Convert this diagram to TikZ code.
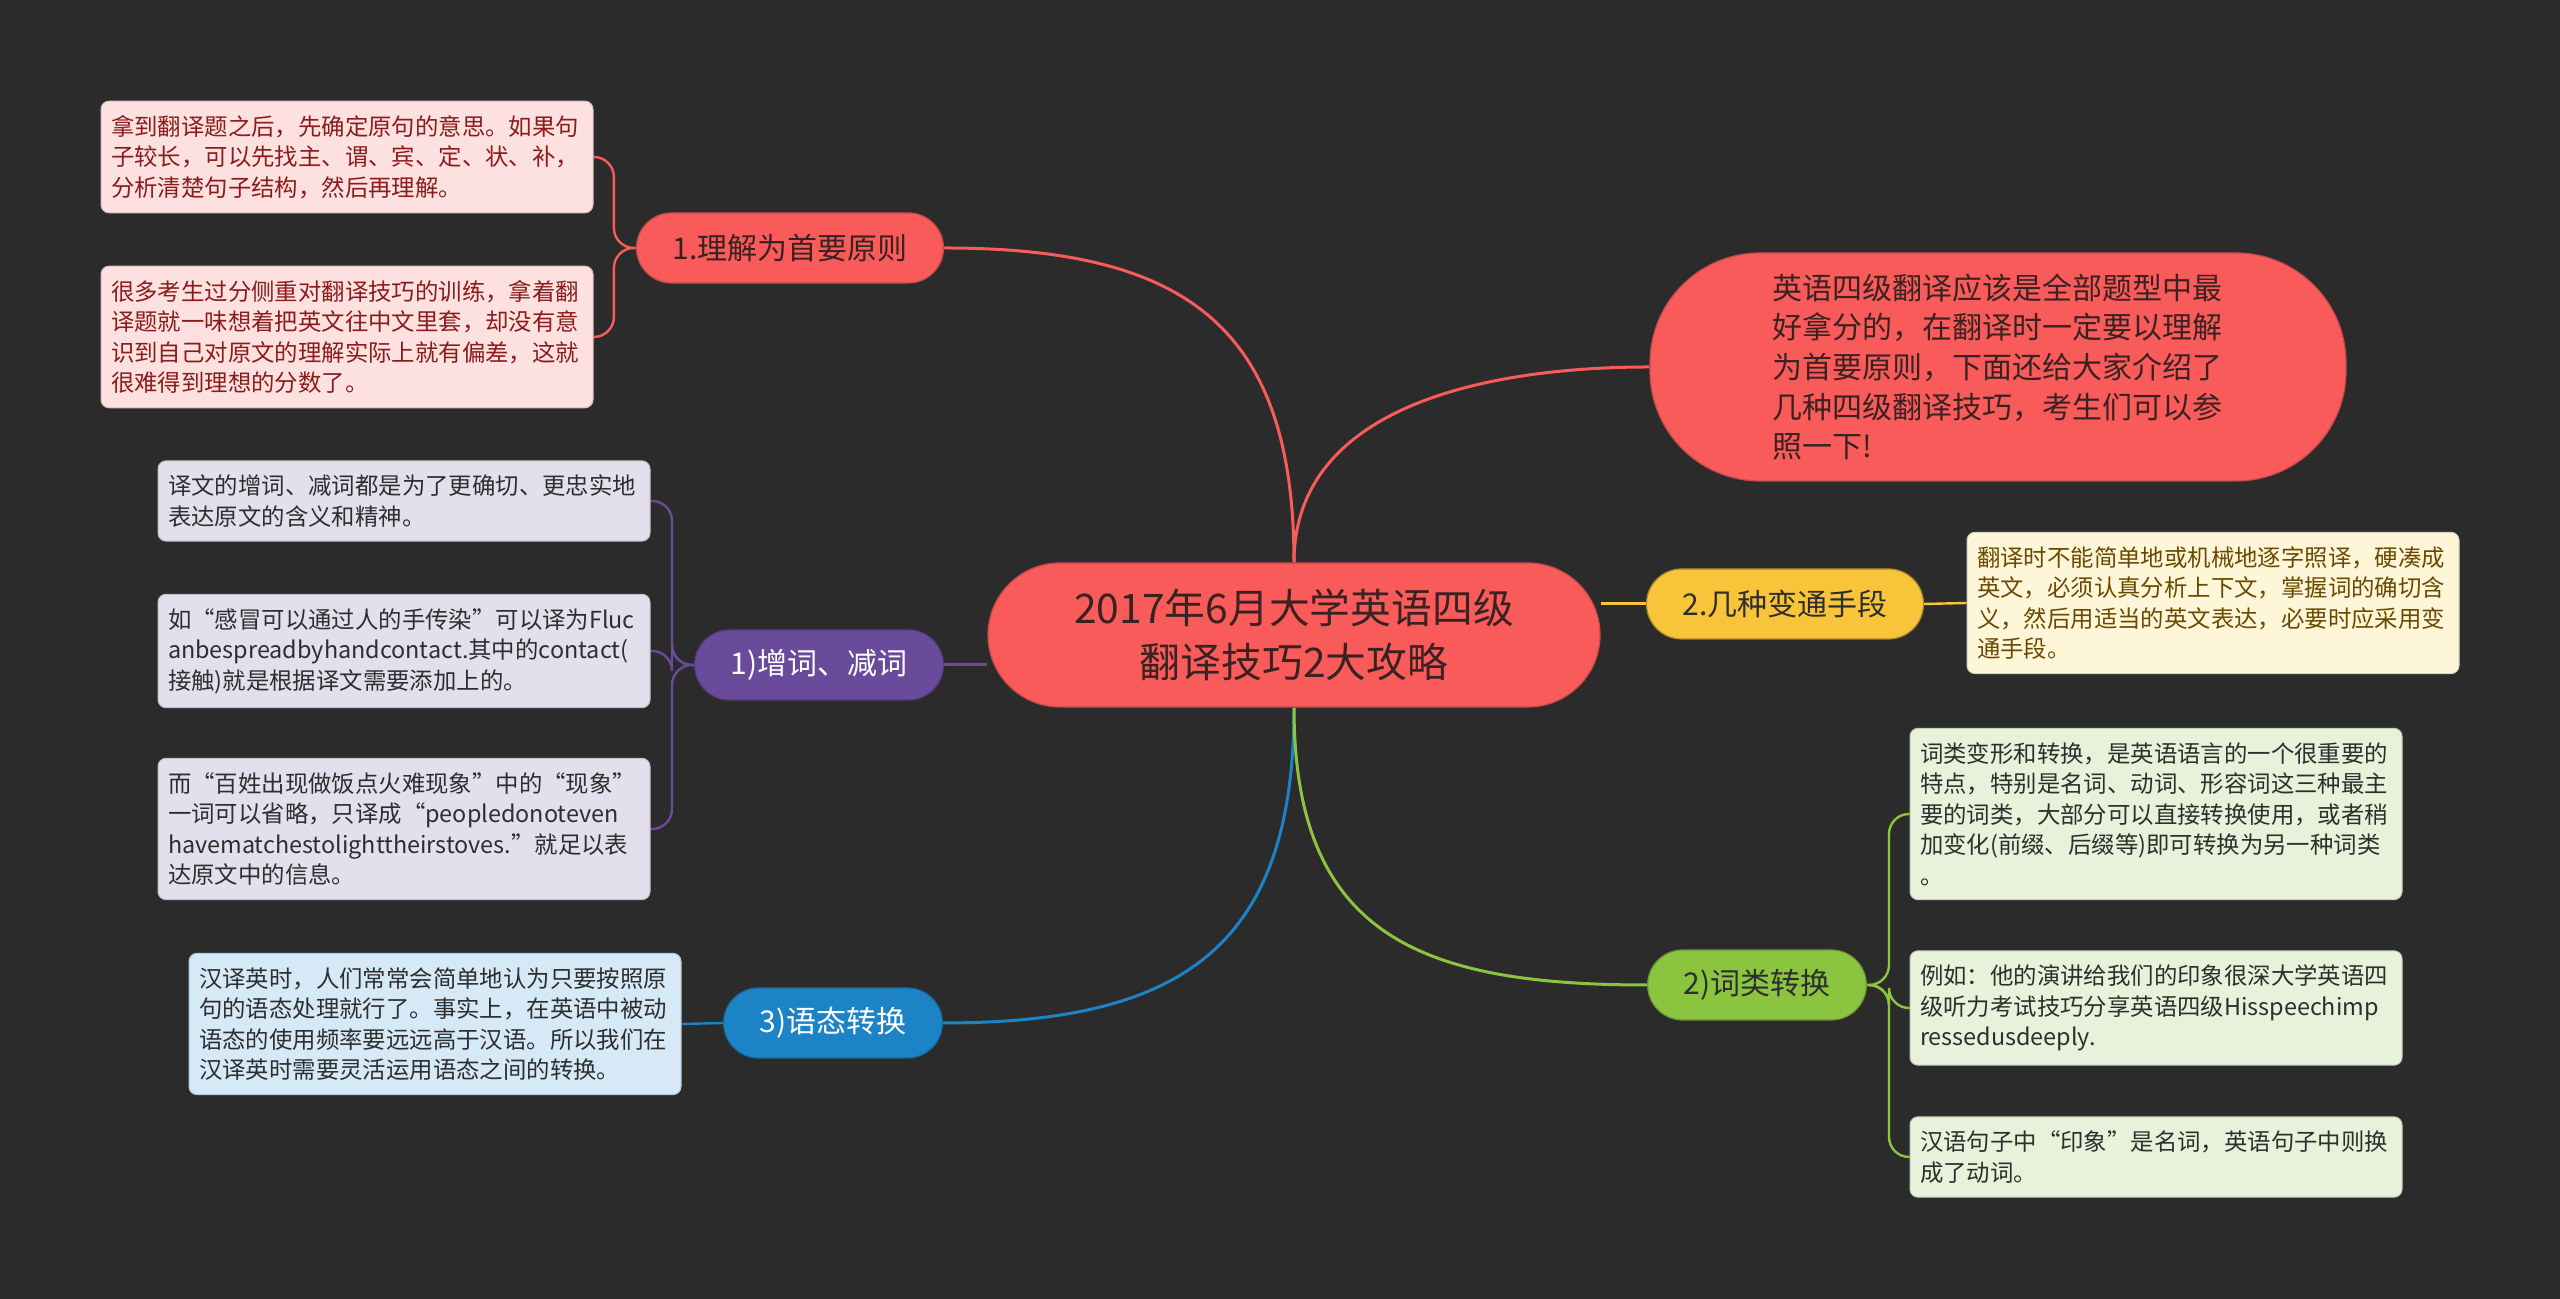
\documentclass[tikz,border=0pt]{standalone}
\usepackage{fontspec}
\setmainfont{Noto Sans CJK SC}
\usepackage{xcolor}
\usetikzlibrary{calc}

\definecolor{bgDark}{HTML}{2B2B2B}
\definecolor{mmRed}{HTML}{F95B5B}
\definecolor{mmRedText}{HTML}{3A2222}
\definecolor{mmRedLeaf}{HTML}{FDE1E1}
\definecolor{mmRedLeafText}{HTML}{8A1C1C}
\definecolor{mmPurple}{HTML}{6A4B9B}
\definecolor{mmPurpleLeaf}{HTML}{E4DFEC}
\definecolor{mmBlue}{HTML}{1C84C6}
\definecolor{mmBlueLeaf}{HTML}{D5E9F6}
\definecolor{mmYellow}{HTML}{F8C43A}
\definecolor{mmYellowLeaf}{HTML}{FEF6D8}
\definecolor{mmYellowLeafText}{HTML}{6B4A00}
\definecolor{mmGreen}{HTML}{8BC53F}
\definecolor{mmGreenLeaf}{HTML}{E8F2DA}
\definecolor{mmDarkText}{HTML}{2E2E2E}

\pgfdeclarelayer{back}
\pgfdeclarelayer{lines}
\pgfsetlayers{back,lines,main}

\begin{document}
\begin{tikzpicture}[x=0.5pt, y=0.5pt,
    rootbox/.style={fill=mmRed, draw=mmRed!80!black, line width=0.6pt, rounded corners=36pt,
      minimum width=306pt, minimum height=72pt, align=center, text=mmRedText,
      font=\fontsize{20.4}{27}\selectfont},
    introbox/.style={fill=mmRed, draw=mmRed!80!black, line width=0.6pt, rounded corners=55pt,
      minimum width=348pt, minimum height=114pt, text width=226pt, align=left, text=mmRedText,
      font=\fontsize{15}{19.85}\selectfont},
    branch/.style={rounded corners=17.5pt, minimum height=35pt, inner xsep=18pt, line width=0.6pt,
      font=\fontsize{15}{18}\selectfont},
    leaf/.style={rounded corners=4pt, text width=236pt, inner xsep=5pt, inner ysep=7pt,
      align=left, line width=0.5pt, font=\fontsize{11.7}{15.25}\selectfont},
    leafred/.style={leaf, fill=mmRedLeaf, draw=mmRedLeaf!85!black, text=mmRedLeafText},
    leafpurple/.style={leaf, fill=mmPurpleLeaf, draw=mmPurpleLeaf!85!black, text=mmDarkText},
    leafblue/.style={leaf, fill=mmBlueLeaf, draw=mmBlueLeaf!85!black, text=mmDarkText},
    leafyellow/.style={leaf, fill=mmYellowLeaf, draw=mmYellowLeaf!85!black, text=mmYellowLeafText},
    leafgreen/.style={leaf, fill=mmGreenLeaf, draw=mmGreenLeaf!85!black, text=mmDarkText},
    mainline/.style={line width=1.5pt},
    leafline/.style={line width=1.2pt, rounded corners=10pt},
  ]
  \useasboundingbox (0,0) rectangle (2560,1299);
  \begin{pgfonlayer}{back}
    \fill[bgDark] (0,0) rectangle (2560,1299);
  \end{pgfonlayer}

  % Centre
  \node[rootbox] (root) at (1294,664) {2017年6月大学英语四级\\翻译技巧2大攻略};
  \node[introbox] (intro) at (1998,932) {英语四级翻译应该是全部题型中最\\好拿分的，在翻译时一定要以理解\\为首要原则，下面还给大家介绍了\\几种四级翻译技巧，考生们可以参\\照一下!};

  % Branches
  \node[branch, fill=mmRed, draw=mmRed!80!black, text=mmRedText] (lijie) at (790,1051) {1.理解为首要原则};
  \node[branch, fill=mmYellow, draw=mmYellow!70!black, text=mmDarkText] (biantong) at (1785,695) {2.几种变通手段};
  \node[branch, fill=mmPurple, draw=mmPurple!80!black, text=white] (zengci) at (819,634) {1)增词、减词};
  \node[branch, fill=mmGreen, draw=mmGreen!75!black, text=mmDarkText] (cilei) at (1757,314) {2)词类转换};
  \node[branch, fill=mmBlue, draw=mmBlue!80!black, text=white] (yutai) at (833,276) {3)语态转换};

  % Leaves, left
  \node[leafred] (lijieA) at (347,1142) {拿到翻译题之后，先确定原句的意思。如果句\\子较长，可以先找主、谓、宾、定、状、补，\\分析清楚句子结构，然后再理解。};
  \node[leafred] (lijieB) at (347,962) {很多考生过分侧重对翻译技巧的训练，拿着翻\\译题就一味想着把英文往中文里套，却没有意\\识到自己对原文的理解实际上就有偏差，这就\\很难得到理想的分数了。};
  \node[leafpurple] (zengciA) at (404,798) {译文的增词、减词都是为了更确切、更忠实地\\表达原文的含义和精神。};
  \node[leafpurple] (zengciB) at (404,648) {如“感冒可以通过人的手传染”可以译为Fluc\\anbespreadbyhandcontact.其中的contact(\\接触)就是根据译文需要添加上的。};
  \node[leafpurple] (zengciC) at (404,470) {而“百姓出现做饭点火难现象”中的“现象”\\一词可以省略，只译成“peopledonoteven\\havematchestolighttheirstoves.”就足以表\\达原文中的信息。};
  \node[leafblue] (yutaiA) at (435,275) {汉译英时，人们常常会简单地认为只要按照原\\句的语态处理就行了。事实上，在英语中被动\\语态的使用频率要远远高于汉语。所以我们在\\汉译英时需要灵活运用语态之间的转换。};

  % Leaves, right
  \node[leafyellow] (biantongA) at (2213,696) {翻译时不能简单地或机械地逐字照译，硬凑成\\英文，必须认真分析上下文，掌握词的确切含\\义，然后用适当的英文表达，必要时应采用变\\通手段。};
  \node[leafgreen] (cileiA) at (2156,485) {词类变形和转换，是英语语言的一个很重要的\\特点，特别是名词、动词、形容词这三种最主\\要的词类，大部分可以直接转换使用，或者稍\\加变化(前缀、后缀等)即可转换为另一种词类\\。};
  \node[leafgreen] (cileiB) at (2156,291) {例如：他的演讲给我们的印象很深大学英语四\\级听力考试技巧分享英语四级Hisspeechimp\\ressedusdeeply.};
  \node[leafgreen] (cileiC) at (2156,142) {汉语句子中“印象”是名词，英语句子中则换\\成了动词。};

  \begin{pgfonlayer}{lines}
    % Root to branches
    \draw[mainline, mmRed] (lijie.east) to[out=0, in=90, looseness=1.3] (root.north);
    \draw[mainline, mmRed] (intro.west) to[out=180, in=90] (root.north);
    \draw[mainline, mmYellow] (biantong.west) -- (biantong.west -| root.east);
    \draw[mainline, mmPurple] (zengci.east) -- (zengci.east -| root.west);
    \draw[mainline, mmBlue] (yutai.east) to[out=0, in=-90, looseness=1.3] (root.south);
    \draw[mainline, mmGreen] (cilei.west) to[out=180, in=-90, looseness=1.3] (root.south);

    % Branches to leaves
    \foreach \l in {lijieA, lijieB}
      \draw[leafline, mmRed] (lijie.west) -- ++(-22,0) |- (\l.east);
    \foreach \l in {zengciA, zengciB, zengciC}
      \draw[leafline, mmPurple] (zengci.west) -- ++(-22,0) |- (\l.east);
    \draw[leafline, mmBlue] (yutai.west) -- (yutaiA.east);
    \draw[leafline, mmYellow] (biantong.east) -- (biantongA.west);
    \foreach \l in {cileiA, cileiB, cileiC}
      \draw[leafline, mmGreen] (cilei.east) -- ++(22,0) |- (\l.west);
  \end{pgfonlayer}
\end{tikzpicture}
\end{document}
